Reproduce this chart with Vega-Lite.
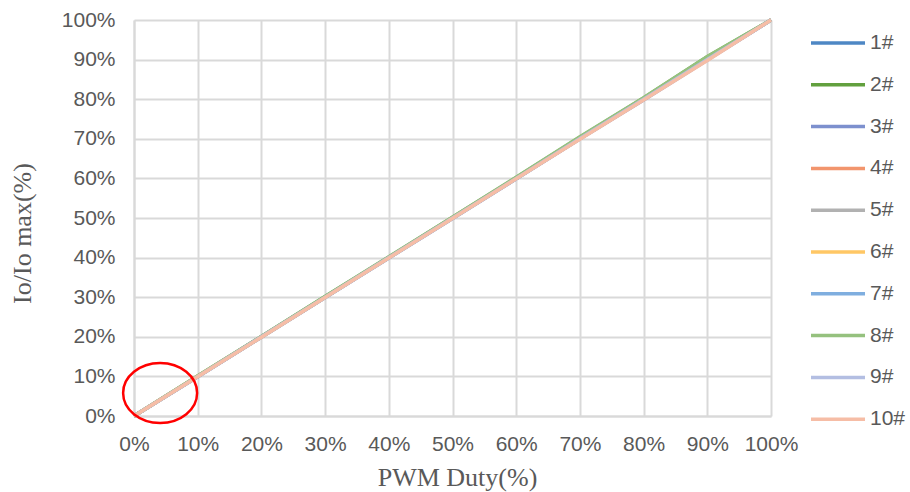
{
  "$schema": "https://vega.github.io/schema/vega-lite/v6.json",
  "width": 637,
  "height": 396,
  "autosize": {"type": "none"},
  "padding": {"left": 134, "top": 20, "right": 139, "bottom": 76},
  "background": "white",
  "config": {
    "view": {"stroke": null},
    "axis": {
      "grid": true,
      "gridColor": "#D9D9D9",
      "gridWidth": 2,
      "domainColor": "#D9D9D9",
      "domainWidth": 2,
      "ticks": false,
      "labelOverlap": false,
      "labelFlush": false,
      "labelFont": "Liberation Sans Narrow, Liberation Sans, sans-serif",
      "labelFontSize": 21,
      "labelColor": "#595959",
      "titleFont": "Liberation Serif",
      "titleFontSize": 26,
      "titleFontWeight": "normal",
      "titleColor": "#595959"
    }
  },
  "datasets": {
    "curves": [
      {"s": "1#", "x": 0, "y": 0}, {"s": "1#", "x": 10, "y": 10}, {"s": "1#", "x": 20, "y": 20}, {"s": "1#", "x": 30, "y": 30}, {"s": "1#", "x": 40, "y": 40}, {"s": "1#", "x": 50, "y": 50}, {"s": "1#", "x": 60, "y": 60}, {"s": "1#", "x": 70, "y": 70}, {"s": "1#", "x": 80, "y": 80}, {"s": "1#", "x": 90, "y": 90}, {"s": "1#", "x": 100, "y": 100},
      {"s": "2#", "x": 0, "y": 0}, {"s": "2#", "x": 10, "y": 10.1}, {"s": "2#", "x": 20, "y": 20.1}, {"s": "2#", "x": 30, "y": 30.2}, {"s": "2#", "x": 40, "y": 40.1}, {"s": "2#", "x": 50, "y": 50.2}, {"s": "2#", "x": 60, "y": 60.2}, {"s": "2#", "x": 70, "y": 70.4}, {"s": "2#", "x": 80, "y": 80.3}, {"s": "2#", "x": 90, "y": 90.7}, {"s": "2#", "x": 100, "y": 100},
      {"s": "3#", "x": 0, "y": 0}, {"s": "3#", "x": 10, "y": 9.9}, {"s": "3#", "x": 20, "y": 19.9}, {"s": "3#", "x": 30, "y": 29.9}, {"s": "3#", "x": 40, "y": 39.9}, {"s": "3#", "x": 50, "y": 49.9}, {"s": "3#", "x": 60, "y": 59.9}, {"s": "3#", "x": 70, "y": 70}, {"s": "3#", "x": 80, "y": 79.8}, {"s": "3#", "x": 90, "y": 89.9}, {"s": "3#", "x": 100, "y": 100},
      {"s": "4#", "x": 0, "y": 0}, {"s": "4#", "x": 10, "y": 10}, {"s": "4#", "x": 20, "y": 20}, {"s": "4#", "x": 30, "y": 30}, {"s": "4#", "x": 40, "y": 40.1}, {"s": "4#", "x": 50, "y": 50}, {"s": "4#", "x": 60, "y": 60}, {"s": "4#", "x": 70, "y": 70.2}, {"s": "4#", "x": 80, "y": 80.1}, {"s": "4#", "x": 90, "y": 90.2}, {"s": "4#", "x": 100, "y": 100},
      {"s": "5#", "x": 0, "y": 0}, {"s": "5#", "x": 10, "y": 10}, {"s": "5#", "x": 20, "y": 19.9}, {"s": "5#", "x": 30, "y": 29.9}, {"s": "5#", "x": 40, "y": 40}, {"s": "5#", "x": 50, "y": 50}, {"s": "5#", "x": 60, "y": 60}, {"s": "5#", "x": 70, "y": 70.1}, {"s": "5#", "x": 80, "y": 80}, {"s": "5#", "x": 90, "y": 90.1}, {"s": "5#", "x": 100, "y": 100},
      {"s": "6#", "x": 0, "y": 0}, {"s": "6#", "x": 10, "y": 10.1}, {"s": "6#", "x": 20, "y": 20}, {"s": "6#", "x": 30, "y": 30}, {"s": "6#", "x": 40, "y": 40}, {"s": "6#", "x": 50, "y": 50.1}, {"s": "6#", "x": 60, "y": 60.1}, {"s": "6#", "x": 70, "y": 70.2}, {"s": "6#", "x": 80, "y": 80.2}, {"s": "6#", "x": 90, "y": 90.3}, {"s": "6#", "x": 100, "y": 100},
      {"s": "7#", "x": 0, "y": 0}, {"s": "7#", "x": 10, "y": 9.9}, {"s": "7#", "x": 20, "y": 20}, {"s": "7#", "x": 30, "y": 29.9}, {"s": "7#", "x": 40, "y": 39.9}, {"s": "7#", "x": 50, "y": 49.9}, {"s": "7#", "x": 60, "y": 59.9}, {"s": "7#", "x": 70, "y": 70}, {"s": "7#", "x": 80, "y": 79.9}, {"s": "7#", "x": 90, "y": 90}, {"s": "7#", "x": 100, "y": 100},
      {"s": "8#", "x": 0, "y": 0}, {"s": "8#", "x": 10, "y": 10.1}, {"s": "8#", "x": 20, "y": 20.1}, {"s": "8#", "x": 30, "y": 30.2}, {"s": "8#", "x": 40, "y": 40.2}, {"s": "8#", "x": 50, "y": 50.2}, {"s": "8#", "x": 60, "y": 60.3}, {"s": "8#", "x": 70, "y": 70.5}, {"s": "8#", "x": 80, "y": 80.4}, {"s": "8#", "x": 90, "y": 90.8}, {"s": "8#", "x": 100, "y": 100},
      {"s": "9#", "x": 0, "y": 0}, {"s": "9#", "x": 10, "y": 10}, {"s": "9#", "x": 20, "y": 20}, {"s": "9#", "x": 30, "y": 30}, {"s": "9#", "x": 40, "y": 40}, {"s": "9#", "x": 50, "y": 50}, {"s": "9#", "x": 60, "y": 60}, {"s": "9#", "x": 70, "y": 70.1}, {"s": "9#", "x": 80, "y": 80}, {"s": "9#", "x": 90, "y": 90}, {"s": "9#", "x": 100, "y": 100},
      {"s": "10#", "x": 0, "y": 0}, {"s": "10#", "x": 10, "y": 9.9}, {"s": "10#", "x": 20, "y": 19.9}, {"s": "10#", "x": 30, "y": 29.9}, {"s": "10#", "x": 40, "y": 39.9}, {"s": "10#", "x": 50, "y": 49.9}, {"s": "10#", "x": 60, "y": 59.9}, {"s": "10#", "x": 70, "y": 69.9}, {"s": "10#", "x": 80, "y": 79.8}, {"s": "10#", "x": 90, "y": 89.8}, {"s": "10#", "x": 100, "y": 100}
    ],
    "mark": [
      {"x": 4.1, "y": 5.8}
    ]
  },
  "encoding": {
    "x": {
      "field": "x", "type": "quantitative",
      "scale": {"domain": [0, 100], "nice": false},
      "axis": {
        "values": [0, 10, 20, 30, 40, 50, 60, 70, 80, 90, 100],
        "labelExpr": "datum.value + '%'",
        "labelOverlap": false,
        "labelFlush": false,
        "labelPadding": 17,
        "title": "PWM Duty(%)",
        "titleX": 323,
        "titleY": 69,
        "titleBaseline": "alphabetic",
        "titleAlign": "center"
      }
    },
    "y": {
      "field": "y", "type": "quantitative",
      "scale": {"domain": [0, 100], "nice": false},
      "axis": {
        "values": [0, 10, 20, 30, 40, 50, 60, 70, 80, 90, 100],
        "labelExpr": "datum.value + '%'",
        "labelOverlap": false,
        "labelFlush": false,
        "labelBound": false,
        "labelPadding": 19,
        "title": "Io/Io max(%)",
        "titleX": -112,
        "titleY": 213,
        "titleAngle": -90,
        "titleBaseline": "middle",
        "titleAlign": "center"
      }
    }
  },
  "layer": [
    {
      "data": {"name": "curves"},
      "mark": {"type": "line", "strokeWidth": 3.5},
      "encoding": {
        "color": {
          "field": "s", "type": "nominal",
          "scale": {
            "domain": ["1#", "2#", "3#", "4#", "5#", "6#", "7#", "8#", "9#", "10#"],
            "range": ["#4E87C4", "#62A03E", "#7D90CE", "#F2956D", "#B1B1B1", "#FFC765", "#7FAEDF", "#95C17E", "#B3BEE2", "#F6BDA6"]
          },
          "legend": {
            "orient": "none",
            "legendX": 675,
            "legendY": 13,
            "title": null,
            "padding": 0,
            "symbolType": "stroke",
            "symbolSize": 2916,
            "symbolStrokeWidth": 3.5,
            "clipHeight": 20,
            "rowPadding": 20.8,
            "labelOffset": 3,
            "labelFont": "Liberation Sans Narrow, Liberation Sans, sans-serif",
            "labelFontSize": 21,
            "labelColor": "#595959",
            "labelLimit": 100
          }
        }
      }
    },
    {
      "data": {"name": "mark"},
      "mark": {
        "type": "point",
        "shape": "M-1,0A1,0.81,0,1,1,1,0A1,0.81,0,1,1,-1,0Z",
        "size": 5476,
        "filled": false,
        "stroke": "#FF0000",
        "strokeWidth": 2.5,
        "opacity": 1
      }
    }
  ]
}
